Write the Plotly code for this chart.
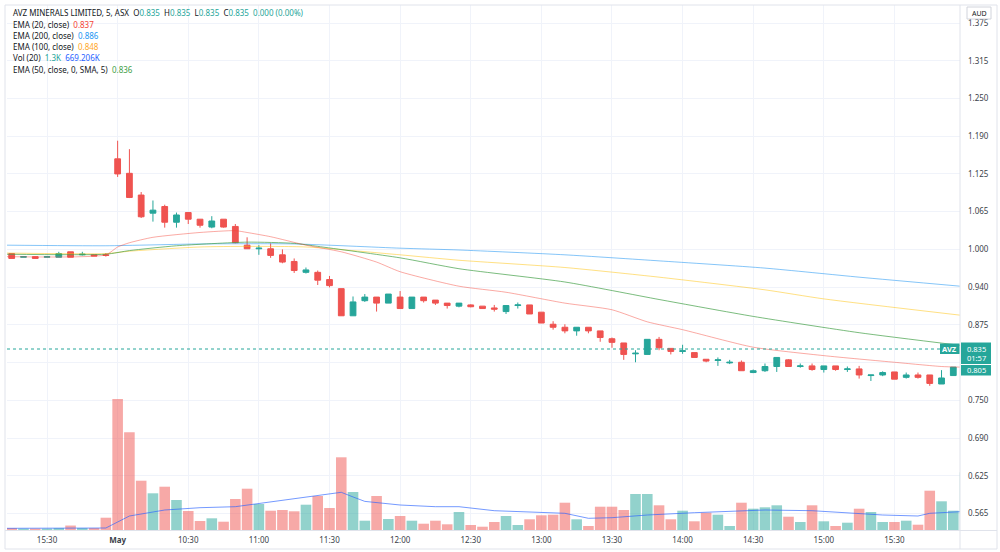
import plotly.graph_objects as go

# ---------------- data ----------------
bar_index = list(range(82))
time_tick_index = [3, 9, 15, 21, 27, 33, 39, 45, 51, 57, 63, 69, 75]
time_tick_text = ["15:30", "<b>May</b>", "10:30", "11:00", "11:30", "12:00", "12:30",
                  "13:00", "13:30", "14:00", "14:30", "15:00", "15:30"]

price_tick_vals = [1.375, 1.3125, 1.25, 1.1875, 1.125, 1.0625, 1.0, 0.9375, 0.875,
                   0.8125, 0.75, 0.6875, 0.625, 0.5625]
price_tick_text = ["1.375", "1.315", "1.250", "1.190", "1.125", "1.065", "1.000", "0.940",
                   "0.875", "", "0.750", "0.690", "0.625", "0.565"]

price_open = [0.993, 0.987, 0.988, 0.987, 0.987, 0.996, 0.991, 0.991, 0.991,
              1.150, 1.126, 1.090, 1.060, 1.071, 1.045, 1.061, 1.050, 1.037, 1.050, 1.038,
              1.007, 1.001, 1.001, 0.991, 0.980, 0.962, 0.962, 0.950, 0.935, 0.890,
              0.915, 0.921, 0.911, 0.921, 0.902, 0.921, 0.916, 0.911, 0.906, 0.908,
              0.906, 0.903, 0.897, 0.907, 0.908, 0.896, 0.876, 0.871, 0.865, 0.871,
              0.865, 0.852, 0.845, 0.827, 0.826, 0.851, 0.836, 0.831, 0.829, 0.818,
              0.816, 0.812, 0.813, 0.796, 0.799, 0.806, 0.817, 0.806, 0.807, 0.801,
              0.807, 0.801, 0.802, 0.791, 0.792, 0.797, 0.788, 0.792, 0.792, 0.777,
              0.791, 0.835]
price_high = [0.993, 0.989, 0.988, 0.989, 0.996, 0.996, 0.996, 0.991, 0.994,
              1.180, 1.166, 1.095, 1.081, 1.074, 1.061, 1.062, 1.050, 1.055, 1.050, 1.042,
              1.020, 1.007, 1.010, 1.000, 0.985, 0.970, 0.965, 0.956, 0.935, 0.922,
              0.926, 0.921, 0.926, 0.931, 0.921, 0.921, 0.916, 0.911, 0.911, 0.909,
              0.906, 0.908, 0.907, 0.912, 0.908, 0.896, 0.881, 0.876, 0.871, 0.871,
              0.865, 0.854, 0.845, 0.833, 0.851, 0.855, 0.836, 0.842, 0.829, 0.818,
              0.821, 0.817, 0.816, 0.801, 0.811, 0.821, 0.818, 0.811, 0.811, 0.807,
              0.807, 0.806, 0.807, 0.792, 0.798, 0.797, 0.796, 0.796, 0.792, 0.800,
              0.805, 0.835]
price_low = [0.985, 0.987, 0.985, 0.987, 0.987, 0.987, 0.990, 0.989, 0.988,
             1.120, 1.085, 1.052, 1.046, 1.036, 1.036, 1.042, 1.036, 1.035, 1.036, 1.010,
             1.001, 0.991, 0.986, 0.977, 0.961, 0.960, 0.941, 0.937, 0.890, 0.890,
             0.913, 0.897, 0.911, 0.902, 0.902, 0.912, 0.908, 0.902, 0.904, 0.904,
             0.902, 0.897, 0.893, 0.902, 0.893, 0.878, 0.867, 0.861, 0.857, 0.861,
             0.847, 0.837, 0.817, 0.813, 0.826, 0.833, 0.826, 0.827, 0.821, 0.813,
             0.807, 0.810, 0.799, 0.795, 0.797, 0.797, 0.806, 0.804, 0.799, 0.796,
             0.799, 0.797, 0.786, 0.782, 0.790, 0.785, 0.786, 0.786, 0.774, 0.777,
             0.791, 0.835]
price_close = [0.985, 0.988, 0.985, 0.988, 0.993, 0.987, 0.992, 0.989, 0.990,
               1.125, 1.086, 1.054, 1.065, 1.045, 1.057, 1.050, 1.040, 1.047, 1.037, 1.011,
               1.001, 1.002, 0.990, 0.979, 0.965, 0.966, 0.949, 0.940, 0.890, 0.913,
               0.921, 0.911, 0.926, 0.902, 0.921, 0.915, 0.911, 0.907, 0.911, 0.905,
               0.902, 0.901, 0.907, 0.908, 0.893, 0.878, 0.871, 0.865, 0.871, 0.865,
               0.854, 0.846, 0.826, 0.828, 0.851, 0.837, 0.831, 0.832, 0.821, 0.815,
               0.817, 0.813, 0.799, 0.799, 0.806, 0.821, 0.806, 0.807, 0.801, 0.807,
               0.801, 0.802, 0.792, 0.792, 0.796, 0.785, 0.792, 0.788, 0.778, 0.787,
               0.805, 0.835]
volume_k = [74, 55, 55, 55, 74, 165, 74, 74, 455,
            4847, 3615, 1824, 1358, 1602, 1110, 703, 333, 433, 307, 1147,
            1528, 962, 714, 740, 692, 936, 1258, 814, 2690, 1406,
            344, 1258, 407, 518, 344, 233, 344, 211, 666, 185,
            122, 296, 518, 185, 396, 544, 566, 1010, 396, 148,
            862, 862, 740, 1332, 1332, 914, 396, 714, 322, 640,
            566, 148, 1010, 788, 840, 914, 492, 296, 914, 322,
            148, 270, 788, 666, 296, 296, 344, 196, 1454, 1062,
            714, 2135]

ema20_x = [-0.5, 8, 9, 10, 12, 16, 19, 20, 22, 25, 28, 31, 33, 38, 42, 47, 51, 54, 57, 63, 69, 75, 79, 80.6]
ema20_y = [0.988, 0.991, 1.004, 1.011, 1.020, 1.028, 1.031, 1.028, 1.021, 1.007, 0.996, 0.979,
           0.963, 0.939, 0.929, 0.911, 0.900, 0.880, 0.867, 0.838, 0.824, 0.813, 0.806, 0.805]
ema200_x = [-0.5, 8, 16, 24, 33, 38, 47, 55, 64, 72, 80.6]
ema200_y = [1.007, 1.006, 1.009, 1.009, 1.002, 0.999, 0.991, 0.981, 0.969, 0.954, 0.939]
ema100_x = [-0.5, 8, 10, 16, 20, 25, 33, 38, 47, 55, 64, 69, 80.6]
ema100_y = [0.994, 0.993, 0.997, 1.004, 1.005, 1.004, 0.991, 0.982, 0.970, 0.954, 0.933, 0.918, 0.891]
ema50_x = [-0.5, 8, 10, 14, 20, 24, 26, 33, 38, 47, 55, 63, 72, 80.6]
ema50_y = [0.992, 0.992, 0.998, 1.006, 1.012, 1.010, 1.005, 0.986, 0.968, 0.946, 0.917, 0.889, 0.862, 0.841]
volma_x = [-0.5, 8, 9, 10, 13, 16, 19, 22, 24, 27, 28, 29, 30, 33, 36, 38, 41, 47, 49, 51, 54, 58, 64, 68, 74, 77, 78, 80.6]
volma_y = [63, 74, 296, 518, 740, 825, 862, 1047, 1160, 1358, 1395, 1223, 1059, 925, 862, 862, 714,
           618, 433, 455, 555, 640, 740, 714, 555, 518, 618, 677]

last_price = 0.835
last_close = 0.805

# ---------------- styling ----------------
UP, DOWN = "#26a69a", "#ef5350"
FONT = "Noto Sans"
TXT = "#131722"
W, H = 1000, 552
ML, MR, MT, MB = 7, 40, 5, 22
PW, PH = W - ML - MR, H - MT - MB


def px_x(px):
    return (px - ML) / PW


def px_y(py):
    return 1 - (py - MT) / PH


vol_colors = ["rgba(38,166,154,0.5)" if c >= o else "rgba(239,83,80,0.5)"
              for o, c in zip(price_open, price_close)]

fig = go.Figure()
fig.add_trace(go.Bar(x=bar_index, y=volume_k, marker=dict(color=vol_colors, line=dict(width=0)),
                     yaxis="y2", hoverinfo="skip"))
fig.add_trace(go.Scatter(x=volma_x, y=volma_y, mode="lines", yaxis="y2",
                         line=dict(color="rgba(41,98,255,0.65)", width=1)))
fig.add_trace(go.Scatter(x=ema200_x, y=ema200_y, mode="lines",
                         line=dict(color="rgba(33,150,243,0.55)", width=1, shape="spline", smoothing=0.6)))
fig.add_trace(go.Scatter(x=ema100_x, y=ema100_y, mode="lines",
                         line=dict(color="rgba(255,193,7,0.5)", width=1, shape="spline", smoothing=0.6)))
fig.add_trace(go.Scatter(x=ema50_x, y=ema50_y, mode="lines",
                         line=dict(color="rgba(67,160,71,0.7)", width=1, shape="spline", smoothing=0.6)))
fig.add_trace(go.Scatter(x=ema20_x, y=ema20_y, mode="lines",
                         line=dict(color="rgba(244,67,54,0.45)", width=1, shape="spline", smoothing=0.6)))
fig.add_trace(go.Candlestick(x=bar_index, open=price_open, high=price_high, low=price_low, close=price_close,
                             increasing=dict(line=dict(color=UP, width=1), fillcolor=UP),
                             decreasing=dict(line=dict(color=DOWN, width=1), fillcolor=DOWN),
                             whiskerwidth=0, hoverinfo="skip"))

shapes = []
BORDER = "#e0e3eb"
# outer frame and separators
shapes.append(dict(type="rect", xref="paper", yref="paper", x0=px_x(5), x1=px_x(997), y0=px_y(549), y1=px_y(5),
                   line=dict(color=BORDER, width=1), layer="above"))
shapes.append(dict(type="line", xref="paper", yref="paper", x0=px_x(960), x1=px_x(960), y0=px_y(549), y1=px_y(5),
                   line=dict(color=BORDER, width=1), layer="above"))
shapes.append(dict(type="line", xref="paper", yref="paper", x0=px_x(5), x1=px_x(997), y0=px_y(530.5), y1=px_y(530.5),
                   line=dict(color=BORDER, width=1), layer="above"))
# last price dotted line
shapes.append(dict(type="line", xref="paper", yref="y", x0=0, x1=px_x(940), y0=last_price, y1=last_price,
                   line=dict(color=UP, width=1, dash="dot"), layer="above"))
# tags
shapes.append(dict(type="rect", xref="paper", yref="paper", x0=px_x(940), x1=px_x(959.5), y0=px_y(354), y1=px_y(343.5),
                   fillcolor=UP, line=dict(width=0), layer="above"))
shapes.append(dict(type="rect", xref="paper", yref="paper", x0=px_x(961), x1=px_x(991), y0=px_y(364), y1=px_y(342.5),
                   fillcolor=UP, line=dict(width=0), layer="above"))
shapes.append(dict(type="rect", xref="paper", yref="paper", x0=px_x(961), x1=px_x(991), y0=px_y(375.5), y1=px_y(365),
                   fillcolor=UP, line=dict(width=0), layer="above"))
# AUD box
shapes.append(dict(type="rect", xref="paper", yref="paper", x0=px_x(967), x1=px_x(991), y0=px_y(19), y1=px_y(7),
                   fillcolor="white", line=dict(color="#d1d4dc", width=1), layer="above"))

ann = []


def label(px, py, text, size=8, color=TXT, anchor="left"):
    ann.append(dict(xref="paper", yref="paper", x=px_x(px), y=px_y(py), text=text, showarrow=False,
                    xanchor=anchor, yanchor="middle", font=dict(family=FONT, size=size, color=color)))


def sp(c, t):
    return f"<span style='color:{c}'>{t}</span>"


nb = "\u00a0"
label(11, 12.7, "AVZ MINERALS LIMITED, 5, ASX" + nb + nb + "O" + sp(UP, "0.835") + nb + nb + "H" + sp(UP, "0.835")
      + nb + nb + "L" + sp(UP, "0.835") + nb + nb + "C" + sp(UP, "0.835") + nb + nb + sp(UP, "0.000 (0.00%)"))
label(11, 24, "EMA (20, close)" + nb + nb + sp("#f44336", "0.837"))
label(11, 35, "EMA (200, close)" + nb + nb + sp("#2196f3", "0.886"))
label(11, 46, "EMA (100, close)" + nb + nb + sp("#ffa726", "0.848"))
label(11, 57, "Vol (20)" + nb + nb + sp(UP, "1.3K") + nb + nb + sp("#2962ff", "669.206K"))
label(11, 69, "EMA (50, close, 0, SMA, 5)" + nb + nb + sp("#43a047", "0.836"))

label(949.7, 349, "<b>AVZ</b>", size=7.5, color="white", anchor="center")
label(976, 348.5, "0.835", size=7.5, color="white", anchor="center")
label(976, 357.5, "01:57", size=7.5, color="white", anchor="center")
label(976, 370.3, "0.805", size=7.5, color="white", anchor="center")
label(979, 13, "AUD", size=7, color=TXT, anchor="center")

y_lo = 1.375 - (530 - 23) / 603.7
y_hi = 1.375 + (23 - 5) / 603.7

fig.update_layout(
    width=W, height=H, margin=dict(l=ML, r=MR, t=MT, b=MB),
    paper_bgcolor="white", plot_bgcolor="white", showlegend=False,
    bargap=0.1, shapes=shapes, annotations=ann,
    font=dict(family=FONT, size=8, color=TXT),
    xaxis=dict(range=[-0.4, 80.57], tickmode="array", tickvals=time_tick_index, ticktext=time_tick_text,
               showgrid=True, gridcolor="#f0f3fa", zeroline=False, showline=False, ticks="",
               rangeslider=dict(visible=False), tickfont=dict(family=FONT, size=8, color="#3b3f4a"),
               ticklabelstandoff=4, fixedrange=True),
    yaxis=dict(range=[y_lo, y_hi], side="right", tickmode="array", tickvals=price_tick_vals,
               ticktext=price_tick_text, showgrid=True, gridcolor="#f0f3fa", zeroline=False, ticks="",
               tickfont=dict(family=FONT, size=8, color="#3b3f4a"), ticklabelstandoff=7, showline=False),
    yaxis2=dict(range=[0, PH * 37], overlaying="y", visible=False, showgrid=False, zeroline=False),
)

fig.write_html("out.html")
